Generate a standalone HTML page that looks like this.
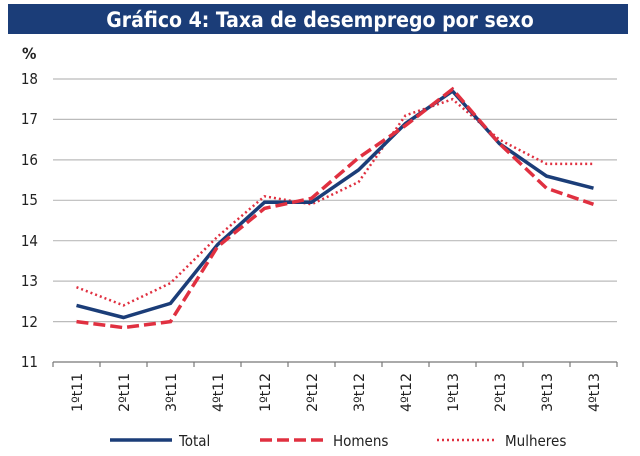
<!DOCTYPE html>
<html><head><meta charset="utf-8"><style>body{margin:0;background:#fff}svg{display:block}</style></head><body>
<svg width="640" height="456" xmlns="http://www.w3.org/2000/svg" font-family="'DejaVu Sans Condensed','Liberation Sans',sans-serif">
<rect x="8" y="4" width="620" height="30" fill="#1b3d78"/>
<text x="320" y="27" text-anchor="middle" fill="#fff" font-size="21" font-weight="bold">Gráfico 4: Taxa de desemprego por sexo</text>
<text x="22" y="59" font-size="16" font-weight="bold" fill="#222">%</text>
<g stroke="#bbb" stroke-width="1.2">
<line x1="53" x2="617" y1="79" y2="79"/><line x1="53" x2="617" y1="119.4" y2="119.4"/><line x1="53" x2="617" y1="159.9" y2="159.9"/><line x1="53" x2="617" y1="200.3" y2="200.3"/><line x1="53" x2="617" y1="240.7" y2="240.7"/><line x1="53" x2="617" y1="281.1" y2="281.1"/><line x1="53" x2="617" y1="321.6" y2="321.6"/>
</g>
<line x1="53" x2="617" y1="362" y2="362" stroke="#777" stroke-width="1.2"/>
<g stroke="#777" stroke-width="1.2">
<line x1="53" x2="53" y1="362" y2="367"/><line x1="100" x2="100" y1="362" y2="367"/><line x1="147" x2="147" y1="362" y2="367"/><line x1="194" x2="194" y1="362" y2="367"/><line x1="241" x2="241" y1="362" y2="367"/><line x1="288" x2="288" y1="362" y2="367"/><line x1="335" x2="335" y1="362" y2="367"/><line x1="382" x2="382" y1="362" y2="367"/><line x1="429" x2="429" y1="362" y2="367"/><line x1="476" x2="476" y1="362" y2="367"/><line x1="523" x2="523" y1="362" y2="367"/><line x1="570" x2="570" y1="362" y2="367"/><line x1="617" x2="617" y1="362" y2="367"/>
</g>
<g font-size="15" fill="#222" text-anchor="end">
<text x="38" y="84">18</text><text x="38" y="124">17</text><text x="38" y="165">16</text><text x="38" y="205">15</text><text x="38" y="246">14</text><text x="38" y="286">13</text><text x="38" y="327">12</text><text x="38" y="367">11</text>
</g>
<g font-size="14" fill="#222" text-anchor="end" font-family="'DejaVu Sans',sans-serif">
<text transform="translate(82,373) rotate(-90)">1ºt11</text>
<text transform="translate(129,373) rotate(-90)">2ºt11</text>
<text transform="translate(176,373) rotate(-90)">3ºt11</text>
<text transform="translate(223,373) rotate(-90)">4ºt11</text>
<text transform="translate(270,373) rotate(-90)">1ºt12</text>
<text transform="translate(317,373) rotate(-90)">2ºt12</text>
<text transform="translate(364,373) rotate(-90)">3ºt12</text>
<text transform="translate(411,373) rotate(-90)">4ºt12</text>
<text transform="translate(458,373) rotate(-90)">1ºt13</text>
<text transform="translate(505,373) rotate(-90)">2ºt13</text>
<text transform="translate(552,373) rotate(-90)">3ºt13</text>
<text transform="translate(599,373) rotate(-90)">4ºt13</text>
</g>
<polyline fill="none" stroke="#e03040" stroke-width="2.5" stroke-dasharray="2,3" points="76.5,287.2 123.5,305.4 170.5,283.1 217.5,236.7 264.5,196.3 311.5,204.3 358.5,182.1 405.5,115.4 452.5,99.2 499.5,139.7 546.5,163.9 593.5,163.9"/>
<polyline fill="none" stroke="#1b3d78" stroke-width="3.5" points="76.5,305.4 123.5,317.5 170.5,303.4 217.5,244.7 264.5,202.3 311.5,202.3 358.5,170.0 405.5,123.5 452.5,91.1 499.5,143.7 546.5,176.1 593.5,188.2"/>
<polyline fill="none" stroke="#e03040" stroke-width="3.5" stroke-dasharray="12,5" points="76.5,321.6 123.5,327.6 170.5,321.6 217.5,246.8 264.5,208.4 311.5,198.3 358.5,157.8 405.5,125.5 452.5,89.1 499.5,143.7 546.5,188.2 593.5,204.3"/>
<line x1="110" x2="172" y1="440" y2="440" stroke="#1b3d78" stroke-width="3.5"/>
<text x="179" y="446" font-size="15" fill="#222">Total</text>
<line x1="260" x2="326" y1="440" y2="440" stroke="#e03040" stroke-width="3.5" stroke-dasharray="12,5"/>
<text x="333" y="446" font-size="15" fill="#222">Homens</text>
<line x1="437" x2="496" y1="440" y2="440" stroke="#e03040" stroke-width="2.5" stroke-dasharray="2,3"/>
<text x="505" y="446" font-size="15" fill="#222">Mulheres</text>
</svg>
</body></html>
